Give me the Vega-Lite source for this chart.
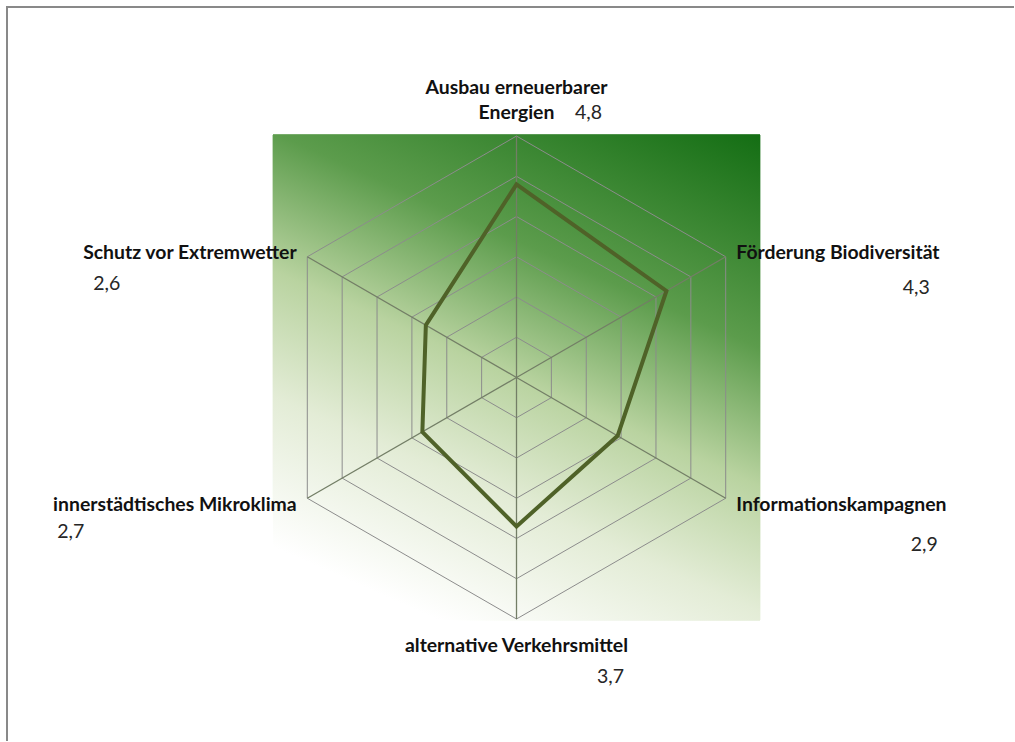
{
  "$schema": "https://vega.github.io/schema/vega-lite/v6.json",
  "width": 1015,
  "height": 742,
  "autosize": {"type": "fit", "contains": "padding"},
  "padding": 0,
  "background": "white",
  "config": {"view": {"stroke": null}},
  "datasets": {
    "werte": [
      {"kategorie": "Ausbau erneuerbarer\nEnergien", "pos": 0, "wert": 4.8},
      {"kategorie": "Förderung Biodiversität", "pos": 1, "wert": 4.3},
      {"kategorie": "Informationskampagnen", "pos": 2, "wert": 2.9},
      {"kategorie": "alternative Verkehrsmittel", "pos": 3, "wert": 3.7},
      {"kategorie": "innerstädtisches Mikroklima", "pos": 4, "wert": 2.7},
      {"kategorie": "Schutz vor Extremwetter", "pos": 5, "wert": 2.6}
    ]
  },
  "data": {"name": "werte"},
  "transform": [
    {"calculate": "datum.pos * PI / 3", "as": "winkel"},
    {"calculate": "6 * sin(datum.winkel)", "as": "ax"},
    {"calculate": "6 * cos(datum.winkel)", "as": "ay"},
    {"calculate": "0", "as": "mitte"},
    {"calculate": "datum.wert * sin(datum.winkel)", "as": "px"},
    {"calculate": "datum.wert * cos(datum.winkel)", "as": "py"},
    {"calculate": "replace(format(datum.wert, '.1f'), '.', ',')", "as": "wertText"}
  ],
  "layer": [
    {
      "mark": {"type": "rule", "stroke": "#898989", "strokeWidth": 2},
      "encoding": {
        "x": {"datum": -12.68, "type": "quantitative", "scale": {"domain": [-12.829, 12.357], "nice": false, "zero": false}, "axis": null},
        "x2": {"datum": 12.357},
        "y": {"datum": 9.206, "type": "quantitative", "scale": {"domain": [-9.032, 9.38], "nice": false, "zero": false}, "axis": null}
      }
    },
    {
      "mark": {"type": "rule", "stroke": "#898989", "strokeWidth": 2},
      "encoding": {
        "x": {"datum": -12.655, "type": "quantitative", "scale": {"domain": [-12.829, 12.357], "nice": false, "zero": false}, "axis": null},
        "y": {"datum": 9.23, "type": "quantitative", "scale": {"domain": [-9.032, 9.38], "nice": false, "zero": false}, "axis": null},
        "y2": {"datum": -9.032}
      }
    },
    {
      "mark": {
        "type": "rect",
        "strokeWidth": 0,
        "fill": {
          "gradient": "linear",
          "x1": 1, "y1": 0, "x2": 0.52, "y2": 1.08,
          "stops": [
            {"offset": 0, "color": "#146e14"},
            {"offset": 0.34, "color": "#5c9c4c"},
            {"offset": 0.56, "color": "#b9d3a0"},
            {"offset": 0.76, "color": "#e3ecd6"},
            {"offset": 1, "color": "#ffffff"}
          ]
        }
      },
      "encoding": {
        "x": {"datum": -6.05, "type": "quantitative", "scale": {"domain": [-12.829, 12.357], "nice": false, "zero": false}, "axis": null},
        "x2": {"datum": 6.05},
        "y": {"datum": 6.03, "type": "quantitative", "scale": {"domain": [-9.032, 9.38], "nice": false, "zero": false}, "axis": null},
        "y2": {"datum": -6.03}
      }
    },
    {
      "transform": [
        {"calculate": "[1, 2, 3, 4, 5, 6]", "as": "stufe"},
        {"flatten": ["stufe"]},
        {"calculate": "datum.stufe * sin(datum.winkel)", "as": "rx"},
        {"calculate": "datum.stufe * cos(datum.winkel)", "as": "ry"}
      ],
      "mark": {"type": "line", "interpolate": "linear-closed", "stroke": "#8c8c8c", "strokeWidth": 1},
      "encoding": {
        "x": {"field": "rx", "type": "quantitative", "scale": {"domain": [-12.829, 12.357], "nice": false, "zero": false}, "axis": null},
        "y": {"field": "ry", "type": "quantitative", "scale": {"domain": [-9.032, 9.38], "nice": false, "zero": false}, "axis": null},
        "detail": {"field": "stufe", "type": "nominal"},
        "order": {"field": "pos", "type": "quantitative"}
      }
    },
    {
      "mark": {"type": "rule", "stroke": "#737e66", "strokeWidth": 1.3},
      "encoding": {
        "x": {"field": "mitte", "type": "quantitative", "scale": {"domain": [-12.829, 12.357], "nice": false, "zero": false}, "axis": null},
        "y": {"field": "mitte", "type": "quantitative", "scale": {"domain": [-9.032, 9.38], "nice": false, "zero": false}, "axis": null},
        "x2": {"field": "ax"},
        "y2": {"field": "ay"}
      }
    },
    {
      "mark": {"type": "line", "interpolate": "linear-closed", "stroke": "#4f6228", "strokeWidth": 4, "strokeJoin": "miter"},
      "encoding": {
        "x": {"field": "px", "type": "quantitative", "scale": {"domain": [-12.829, 12.357], "nice": false, "zero": false}, "axis": null},
        "y": {"field": "py", "type": "quantitative", "scale": {"domain": [-9.032, 9.38], "nice": false, "zero": false}, "axis": null},
        "order": {"field": "pos", "type": "quantitative"}
      }
    },
    {
      "transform": [{"filter": "datum.pos === 0"}],
      "mark": {"type": "text", "font": "Lato", "fontWeight": "bold", "fontSize": 19.4, "color": "#111111", "align": "center", "baseline": "bottom", "lineBreak": "\n", "lineHeight": 25, "dy": -38},
      "encoding": {
        "x": {"field": "ax", "type": "quantitative", "scale": {"domain": [-12.829, 12.357], "nice": false, "zero": false}, "axis": null},
        "y": {"field": "ay", "type": "quantitative", "scale": {"domain": [-9.032, 9.38], "nice": false, "zero": false}, "axis": null},
        "text": {"field": "kategorie", "type": "nominal"}
      }
    },
    {
      "transform": [{"filter": "datum.pos === 1"}],
      "mark": {"type": "text", "font": "Lato", "fontWeight": "bold", "fontSize": 19.4, "color": "#111111", "align": "left", "baseline": "middle", "dx": 10.6, "dy": -4},
      "encoding": {
        "x": {"field": "ax", "type": "quantitative", "scale": {"domain": [-12.829, 12.357], "nice": false, "zero": false}, "axis": null},
        "y": {"field": "ay", "type": "quantitative", "scale": {"domain": [-9.032, 9.38], "nice": false, "zero": false}, "axis": null},
        "text": {"field": "kategorie", "type": "nominal"}
      }
    },
    {
      "transform": [{"filter": "datum.pos === 2"}],
      "mark": {"type": "text", "font": "Lato", "fontWeight": "bold", "fontSize": 19.4, "color": "#111111", "align": "left", "baseline": "middle", "dx": 10.6, "dy": 7},
      "encoding": {
        "x": {"field": "ax", "type": "quantitative", "scale": {"domain": [-12.829, 12.357], "nice": false, "zero": false}, "axis": null},
        "y": {"field": "ay", "type": "quantitative", "scale": {"domain": [-9.032, 9.38], "nice": false, "zero": false}, "axis": null},
        "text": {"field": "kategorie", "type": "nominal"}
      }
    },
    {
      "transform": [{"filter": "datum.pos === 3"}],
      "mark": {"type": "text", "font": "Lato", "fontWeight": "bold", "fontSize": 19.4, "color": "#111111", "align": "center", "baseline": "middle", "dy": 27},
      "encoding": {
        "x": {"field": "ax", "type": "quantitative", "scale": {"domain": [-12.829, 12.357], "nice": false, "zero": false}, "axis": null},
        "y": {"field": "ay", "type": "quantitative", "scale": {"domain": [-9.032, 9.38], "nice": false, "zero": false}, "axis": null},
        "text": {"field": "kategorie", "type": "nominal"}
      }
    },
    {
      "transform": [{"filter": "datum.pos === 4"}],
      "mark": {"type": "text", "font": "Lato", "fontWeight": "bold", "fontSize": 19.4, "color": "#111111", "align": "right", "baseline": "middle", "dx": -10.6, "dy": 7},
      "encoding": {
        "x": {"field": "ax", "type": "quantitative", "scale": {"domain": [-12.829, 12.357], "nice": false, "zero": false}, "axis": null},
        "y": {"field": "ay", "type": "quantitative", "scale": {"domain": [-9.032, 9.38], "nice": false, "zero": false}, "axis": null},
        "text": {"field": "kategorie", "type": "nominal"}
      }
    },
    {
      "transform": [{"filter": "datum.pos === 5"}],
      "mark": {"type": "text", "font": "Lato", "fontWeight": "bold", "fontSize": 19.4, "color": "#111111", "align": "right", "baseline": "middle", "dx": -10.6, "dy": -4},
      "encoding": {
        "x": {"field": "ax", "type": "quantitative", "scale": {"domain": [-12.829, 12.357], "nice": false, "zero": false}, "axis": null},
        "y": {"field": "ay", "type": "quantitative", "scale": {"domain": [-9.032, 9.38], "nice": false, "zero": false}, "axis": null},
        "text": {"field": "kategorie", "type": "nominal"}
      }
    },
    {
      "transform": [{"filter": "datum.pos === 0"}],
      "mark": {"type": "text", "font": "Lato", "fontSize": 19.5, "color": "#262626", "align": "center", "baseline": "middle", "dx": 72, "dy": -23},
      "encoding": {
        "x": {"field": "ax", "type": "quantitative", "scale": {"domain": [-12.829, 12.357], "nice": false, "zero": false}, "axis": null},
        "y": {"field": "ay", "type": "quantitative", "scale": {"domain": [-9.032, 9.38], "nice": false, "zero": false}, "axis": null},
        "text": {"field": "wertText", "type": "nominal"}
      }
    },
    {
      "transform": [{"filter": "datum.pos === 1"}],
      "mark": {"type": "text", "font": "Lato", "fontSize": 19.5, "color": "#262626", "align": "center", "baseline": "middle", "dx": 190.6, "dy": 31},
      "encoding": {
        "x": {"field": "ax", "type": "quantitative", "scale": {"domain": [-12.829, 12.357], "nice": false, "zero": false}, "axis": null},
        "y": {"field": "ay", "type": "quantitative", "scale": {"domain": [-9.032, 9.38], "nice": false, "zero": false}, "axis": null},
        "text": {"field": "wertText", "type": "nominal"}
      }
    },
    {
      "transform": [{"filter": "datum.pos === 2"}],
      "mark": {"type": "text", "font": "Lato", "fontSize": 19.5, "color": "#262626", "align": "center", "baseline": "middle", "dx": 198.6, "dy": 47},
      "encoding": {
        "x": {"field": "ax", "type": "quantitative", "scale": {"domain": [-12.829, 12.357], "nice": false, "zero": false}, "axis": null},
        "y": {"field": "ay", "type": "quantitative", "scale": {"domain": [-9.032, 9.38], "nice": false, "zero": false}, "axis": null},
        "text": {"field": "wertText", "type": "nominal"}
      }
    },
    {
      "transform": [{"filter": "datum.pos === 3"}],
      "mark": {"type": "text", "font": "Lato", "fontSize": 19.5, "color": "#262626", "align": "center", "baseline": "middle", "dx": 94, "dy": 58},
      "encoding": {
        "x": {"field": "ax", "type": "quantitative", "scale": {"domain": [-12.829, 12.357], "nice": false, "zero": false}, "axis": null},
        "y": {"field": "ay", "type": "quantitative", "scale": {"domain": [-9.032, 9.38], "nice": false, "zero": false}, "axis": null},
        "text": {"field": "wertText", "type": "nominal"}
      }
    },
    {
      "transform": [{"filter": "datum.pos === 4"}],
      "mark": {"type": "text", "font": "Lato", "fontSize": 19.5, "color": "#262626", "align": "center", "baseline": "middle", "dx": -236.6, "dy": 34},
      "encoding": {
        "x": {"field": "ax", "type": "quantitative", "scale": {"domain": [-12.829, 12.357], "nice": false, "zero": false}, "axis": null},
        "y": {"field": "ay", "type": "quantitative", "scale": {"domain": [-9.032, 9.38], "nice": false, "zero": false}, "axis": null},
        "text": {"field": "wertText", "type": "nominal"}
      }
    },
    {
      "transform": [{"filter": "datum.pos === 5"}],
      "mark": {"type": "text", "font": "Lato", "fontSize": 19.5, "color": "#262626", "align": "center", "baseline": "middle", "dx": -200.6, "dy": 27},
      "encoding": {
        "x": {"field": "ax", "type": "quantitative", "scale": {"domain": [-12.829, 12.357], "nice": false, "zero": false}, "axis": null},
        "y": {"field": "ay", "type": "quantitative", "scale": {"domain": [-9.032, 9.38], "nice": false, "zero": false}, "axis": null},
        "text": {"field": "wertText", "type": "nominal"}
      }
    }
  ]
}
